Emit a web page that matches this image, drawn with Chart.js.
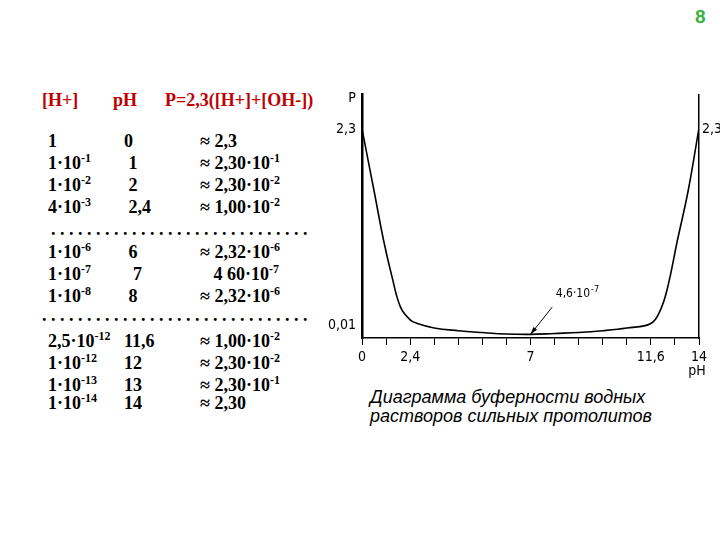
<!DOCTYPE html>
<html>
<head>
<meta charset="utf-8">
<script src="https://cdn.jsdelivr.net/npm/chart.js@4"></script>
<style>
  body { margin: 0; width: 720px; height: 540px; background: #fff; position: relative; overflow: hidden; }
  .t { position: absolute; font-family: "Liberation Serif", "Times New Roman", serif; font-weight: bold; font-size: 18px; line-height: 20px; white-space: pre; color: #000; }
  .t sup { font-size: 12px; vertical-align: 7px; line-height: 0; }
  .hd { color: #c00000; }
  #num { position: absolute; left: 695px; top: 6px; font: bold 19px "Liberation Sans", Arial, sans-serif; color: #3cb043; }
  #cap { position: absolute; left: 370px; top: 388px; font: italic 18px "Liberation Sans", Arial, sans-serif; line-height: 19px; }
  #wrap { position: absolute; left: 320px; top: 80px; width: 400px; height: 300px; }
</style>
</head>
<body>
<div id="num">8</div>
<div id="table"></div>
<div id="cap">Диаграмма буферности водных<br>растворов сильных протолитов</div>
<div id="wrap"><canvas id="c"></canvas></div>
<script>
// curve (schematic units, 2.3 at top label)
const phValues = [0, 0.5, 0.9, 1.25, 1.6, 2, 2.3, 3, 4, 5, 6, 7, 8, 9, 10, 11, 12, 12.4, 12.7, 13.1, 13.55, 14];
const bufValues = [2.3, 1.62, 1.07, 0.67, 0.34, 0.2, 0.16, 0.11, 0.08, 0.06, 0.044, 0.04, 0.05, 0.06, 0.08, 0.11, 0.16, 0.31, 0.56, 1.07, 1.62, 2.31];

const xTickValues = [0, 2, 7, 12, 14];
const xTickLabels = ["0", "2,4", "7", "11,6", "14"];
const yTickValues = [0.14, 2.3];
const yTickLabels = ["0,01", "2,3"];
const rightTickValues = [2.3];
const rightTickLabels = ["2,3"];

// table on the left
const headRow = ["[H+]", "pH", "P=2,3([H+]+[OH-])"];
const rows = [
  ["1", "0", "≈ 2,3"],
  ["1·10<sup>-1</sup>", " 1", "≈ 2,30·10<sup>-1</sup>"],
  ["1·10<sup>-2</sup>", " 2", "≈ 2,30·10<sup>-2</sup>"],
  ["4·10<sup>-3</sup>", " 2,4", "≈ 1,00·10<sup>-2</sup>"],
  null,
  ["1·10<sup>-6</sup>", " 6", "≈ 2,32·10<sup>-6</sup>"],
  ["1·10<sup>-7</sup>", "  7", "   4 60·10<sup>-7</sup>"],
  ["1·10<sup>-8</sup>", " 8", "≈ 2,32·10<sup>-6</sup>"],
  null,
  ["2,5·10<sup>-12</sup>", "11,6", "≈ 1,00·10<sup>-2</sup>"],
  ["1·10<sup>-12</sup>", "12", "≈ 2,30·10<sup>-2</sup>"],
  ["1·10<sup>-13</sup>", "13", "≈ 2,30·10<sup>-1</sup>"],
  ["1·10<sup>-14</sup>", "14", "≈ 2,30"]
];
const rowTops = [131, 153, 175, 197, 219, 242, 264, 286, 305, 331, 353, 375, 393];

const tbl = document.getElementById("table");
function addText(html, left, top, cls) {
  const d = document.createElement("div");
  d.className = "t " + (cls || "");
  d.style.left = left + "px";
  d.style.top = top + "px";
  d.innerHTML = html;
  tbl.appendChild(d);
}
addText(headRow[0], 42, 90, "hd");
addText(headRow[1], 113, 90, "hd");
addText(headRow[2], 165, 90, "hd");
rows.forEach((r, i) => {
  if (r === null) {
    const n = i === 4 ? 29 : 30;
    addText(Array(n).fill(".").join(" "), i === 4 ? 51 : 42, rowTops[i]);
    return;
  }
  addText(r[0], 48, rowTops[i]);
  addText(r[1], 124, rowTops[i]);
  addText(r[2], 200, rowTops[i]);
});

const narrow = '"Liberation Sans Narrow", "DejaVu Sans Condensed", "Liberation Sans", sans-serif';

const extraText = {
  id: "extraText",
  afterDraw(chart) {
    const { ctx, scales: { x, y } } = chart;
    ctx.save();
    ctx.fillStyle = "#000";
    ctx.font = "14px " + narrow;
    ctx.textAlign = "center";
    ctx.textBaseline = "middle";
    ctx.fillText("P", x.left - 10, chart.chartArea.top + 4);
    ctx.fillText("pH", x.right - 2, x.bottom - 9);
    // arrow to the minimum at pH 7
    const tipX = x.getPixelForValue(7), tipY = y.getPixelForValue(0.04);
    const tailX = x.getPixelForValue(7.9), tailY = y.getPixelForValue(0.34);
    ctx.strokeStyle = "#000";
    ctx.lineWidth = 1;
    ctx.beginPath();
    ctx.moveTo(tailX, tailY);
    ctx.lineTo(tipX, tipY);
    ctx.stroke();
    const ang = Math.atan2(tipY - tailY, tipX - tailX);
    ctx.beginPath();
    ctx.moveTo(tipX, tipY);
    ctx.lineTo(tipX - 8 * Math.cos(ang - 0.3), tipY - 8 * Math.sin(ang - 0.3));
    ctx.lineTo(tipX - 8 * Math.cos(ang + 0.3), tipY - 8 * Math.sin(ang + 0.3));
    ctx.closePath();
    ctx.fill();
    ctx.textAlign = "left";
    ctx.font = "12px " + narrow;
    const lx = x.getPixelForValue(8.05), ly = y.getPixelForValue(0.49);
    ctx.fillText("4,6·10", lx, ly);
    const w = ctx.measureText("4,6·10").width;
    ctx.font = "9px " + narrow;
    ctx.fillText("-7", lx + w + 1, ly - 4);
    ctx.restore();
  }
};

new Chart(document.getElementById("c"), {
  type: "line",
  data: {
    datasets: [{
      data: phValues.map((p, i) => ({ x: p, y: bufValues[i] })),
      borderColor: "#000",
      borderWidth: 1.6,
      pointRadius: 0,
      fill: false,
      tension: 0.4
    }, {
      data: [],
      yAxisID: "y2"
    }]
  },
  options: {
    responsive: true,
    maintainAspectRatio: false,
    animation: false,
    layout: { padding: { top: 13, left: 0, right: 0, bottom: 0 } },
    plugins: { legend: { display: false }, tooltip: { enabled: false } },
    scales: {
      x: {
        type: "linear",
        min: 0, max: 14,
        afterBuildTicks: ax => { ax.ticks = Array.from({ length: 15 }, (_, i) => ({ value: i })); },
        afterFit: ax => { ax.height = 42; },
        grid: { drawOnChartArea: false, drawTicks: true, tickLength: 7, color: "#000", lineWidth: 1 },
        border: { display: true, color: "#000", width: 1.5 },
        ticks: {
          autoSkip: false, maxRotation: 0, padding: 4, color: "#000",
          font: { family: narrow, size: 14 },
          callback: v => { const k = xTickValues.indexOf(v); return k >= 0 ? xTickLabels[k] : ""; }
        }
      },
      y: {
        min: 0, max: 2.68,
        afterBuildTicks: ax => { ax.ticks = yTickValues.map(v => ({ value: v })); },
        afterFit: ax => { ax.width = 42; },
        grid: { display: false, drawTicks: false },
        border: { display: true, color: "#000", width: 2.5 },
        ticks: {
          padding: 6, color: "#000",
          font: { family: narrow, size: 14 },
          callback: v => { const k = yTickValues.indexOf(v); return k >= 0 ? yTickLabels[k] : ""; }
        }
      },
      y2: {
        position: "right",
        min: 0, max: 2.68,
        afterBuildTicks: ax => { ax.ticks = rightTickValues.map(v => ({ value: v })); },
        afterFit: ax => { ax.width = 21; },
        grid: { display: false, drawTicks: false },
        border: { display: true, color: "#000", width: 1.5 },
        ticks: {
          padding: 3, color: "#000",
          font: { family: narrow, size: 14 },
          callback: v => { const k = rightTickValues.indexOf(v); return k >= 0 ? rightTickLabels[k] : ""; }
        }
      }
    }
  },
  plugins: [extraText]
});
</script>
</body>
</html>
